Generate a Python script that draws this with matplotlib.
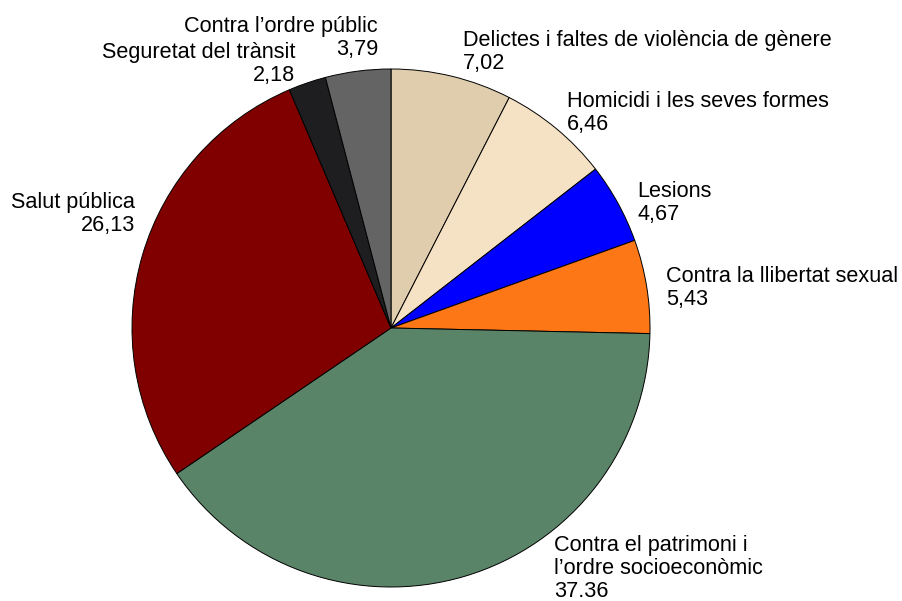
import matplotlib.pyplot as plt

plt.rcParams['font.family'] = ['Liberation Sans', 'DejaVu Sans']

# data (clockwise from 12 o'clock)
categories = ["Delictes i faltes de violència de gènere", "Homicidi i les seves formes",
              "Lesions", "Contra la llibertat sexual",
              "Contra el patrimoni i\nl\u2019ordre socioeconòmic", "Salut pública",
              "Seguretat del trànsit", "Contra l\u2019ordre públic"]
values = [7.02, 6.46, 4.67, 5.43, 37.36, 26.13, 2.18, 3.79]
value_labels = ["7,02", "6,46", "4,67", "5,43", "37.36", "26,13", "2,18", "3,79"]
colors = ["#dfcdad", "#f5e2c4", "#0000ff", "#fd7717", "#5a8468", "#800000", "#1e1e21", "#646464"]

W, H = 902, 601
fig = plt.figure(figsize=(W / 100, H / 100), dpi=100)

cx, cy, r = 391, 328, 259
ax = fig.add_axes([(cx - r) / W, (H - cy - r) / H, 2 * r / W, 2 * r / H])
ax.pie(values, colors=colors, startangle=90, counterclock=False, radius=1,
       wedgeprops=dict(edgecolor="black", linewidth=0.7))
ax.set_xlim(-1, 1)
ax.set_ylim(-1, 1)
ax.set_aspect("equal")
ax.axis("off")

# label positions in pixels: x, baseline of first line, alignment
label_pos = [(463, 46, "left"), (567, 107, "left"), (637, 197, "left"), (666, 282, "left"),
             (554, 551, "left"), (135, 208, "right"), (295, 58, "right"), (378, 32, "right")]
line_step = 23

for cat, lab, (px, py, ha) in zip(categories, value_labels, label_pos):
    lines = cat.split("\n") + [lab]
    for i, line in enumerate(lines):
        fig.text(px / W, 1 - (py + i * line_step) / H, line, ha=ha, va="baseline",
                 fontsize=15.6, color="black")

fig.savefig("out.png", dpi=100)
